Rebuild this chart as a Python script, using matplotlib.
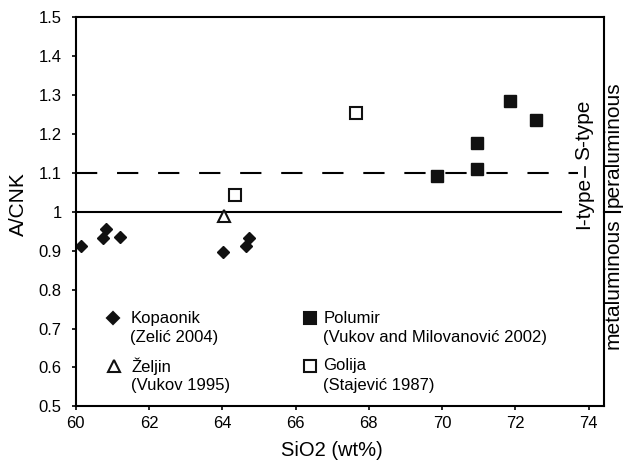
import matplotlib
matplotlib.use('Agg')
import matplotlib.pyplot as plt
from matplotlib.ticker import FuncFormatter

plt.rcParams['font.family'] = ['Liberation Sans', 'DejaVu Sans']

# Kopaonik (Zelic 2004)
kop_sio2 = [60.14, 60.75, 60.82, 61.22, 64.02, 64.65, 64.74]
kop_acnk = [0.913, 0.932, 0.957, 0.936, 0.896, 0.913, 0.932]
# Zeljin (Vukov 1995)
zel_sio2 = [64.06]
zel_acnk = [0.990]
# Golija (Stajevic 1987)
gol_sio2 = [64.34, 67.66]
gol_acnk = [1.043, 1.254]
# Polumir (Vukov and Milovanovic 2002)
pol_sio2 = [69.86, 70.95, 70.95, 71.85, 72.55]
pol_acnk = [1.093, 1.111, 1.178, 1.284, 1.237]

x_ticks = [60, 62, 64, 66, 68, 70, 72, 74]
y_ticks = [0.5, 0.6, 0.7, 0.8, 0.9, 1.0, 1.1, 1.2, 1.3, 1.4, 1.5]

fig = plt.figure(figsize=(6.23, 4.65), dpi=100)
ax = fig.add_axes([0.1215, 0.1262, 0.8488, 0.8366])

ax.set_xlim(60, 74.43)
ax.set_ylim(0.5, 1.5)

# boundary lines
ax.plot([60, 73.25], [1.0, 1.0], color='black', lw=1.5)
ax.plot([60, 73.72], [1.1, 1.1], color='black', lw=1.5,
        linestyle=(0, (10.2, 9.5)))

ax.plot(kop_sio2, kop_acnk, 'D', color='#111111', ms=6.5, ls='none')
ax.plot(zel_sio2, zel_acnk, '^', mfc='white', mec='#111111', mew=1.5, ms=9, ls='none')
ax.plot(gol_sio2, gol_acnk, 's', mfc='white', mec='#111111', mew=1.5, ms=8.5, ls='none')
ax.plot(pol_sio2, pol_acnk, 's', color='#111111', ms=9, ls='none')

# legend drawn by hand (marker next to first line of label)
legend_items = [
    (0.070, 0.226, 'D', '#111111', 'Kopaonik', '(Zelić 2004)', 6),
    (0.443, 0.226, 's', '#111111', 'Polumir', '(Vukov and Milovanović 2002)', 9),
    (0.072, 0.104, '^', 'white', 'Željin', '(Vukov 1995)', 9),
    (0.443, 0.104, 's', 'white', 'Golija', '(Stajević 1987)', 8.5),
]
for lx, ly, mk, fc, name, ref, ms in legend_items:
    ax.plot([lx], [ly], mk, mfc=fc, mec='#111111', mew=1.5, ms=ms,
            transform=ax.transAxes, clip_on=False)
    tx = lx + 0.033 if lx < 0.2 else lx + 0.025
    ax.text(tx, ly, name, transform=ax.transAxes, fontsize=12,
            ha='left', va='center')
    ax.text(tx, ly - 0.05, ref, transform=ax.transAxes, fontsize=12,
            ha='left', va='center')

# granite type labels inside the axes
ax.text(73.85, 1.133, 'S-type', rotation=90, fontsize=15, ha='center', va='bottom')
ax.text(73.85, 1.089, 'I-type', rotation=90, fontsize=15, ha='center', va='top')
ax.plot([73.91, 73.91], [1.09, 1.115], color='black', lw=1.2)

# alumina saturation labels outside the axes
trans = ax.get_yaxis_transform()
ax.text(1.016, 1.013, 'peraluminous', rotation=90, fontsize=15,
        ha='center', va='bottom', transform=trans)
ax.text(1.016, 0.984, 'metaluminous', rotation=90, fontsize=15,
        ha='center', va='top', transform=trans)
ax.plot([1.0, 1.03], [1.0, 1.0], color='black', lw=1.5,
        transform=trans, clip_on=False)

ax.set_xticks(x_ticks)
ax.set_yticks(y_ticks)
ax.yaxis.set_major_formatter(FuncFormatter(lambda v, p: f'{v:g}'))
ax.tick_params(direction='out', length=3, width=1.2, labelsize=12)
ax.tick_params(axis='x', pad=4)
ax.tick_params(axis='y', pad=7)
ax.tick_params(top=False, right=False)
for sp in ax.spines.values():
    sp.set_linewidth(1.5)

ax.set_xlabel('SiO2 (wt%)', fontsize=14.5)
ax.set_ylabel('A/CNK', fontsize=15)
ax.xaxis.set_label_coords((67 - 60) / 14.43, -0.09)
ax.yaxis.set_label_coords(-0.09, 0.52)

fig.savefig('out.png', dpi=100)
